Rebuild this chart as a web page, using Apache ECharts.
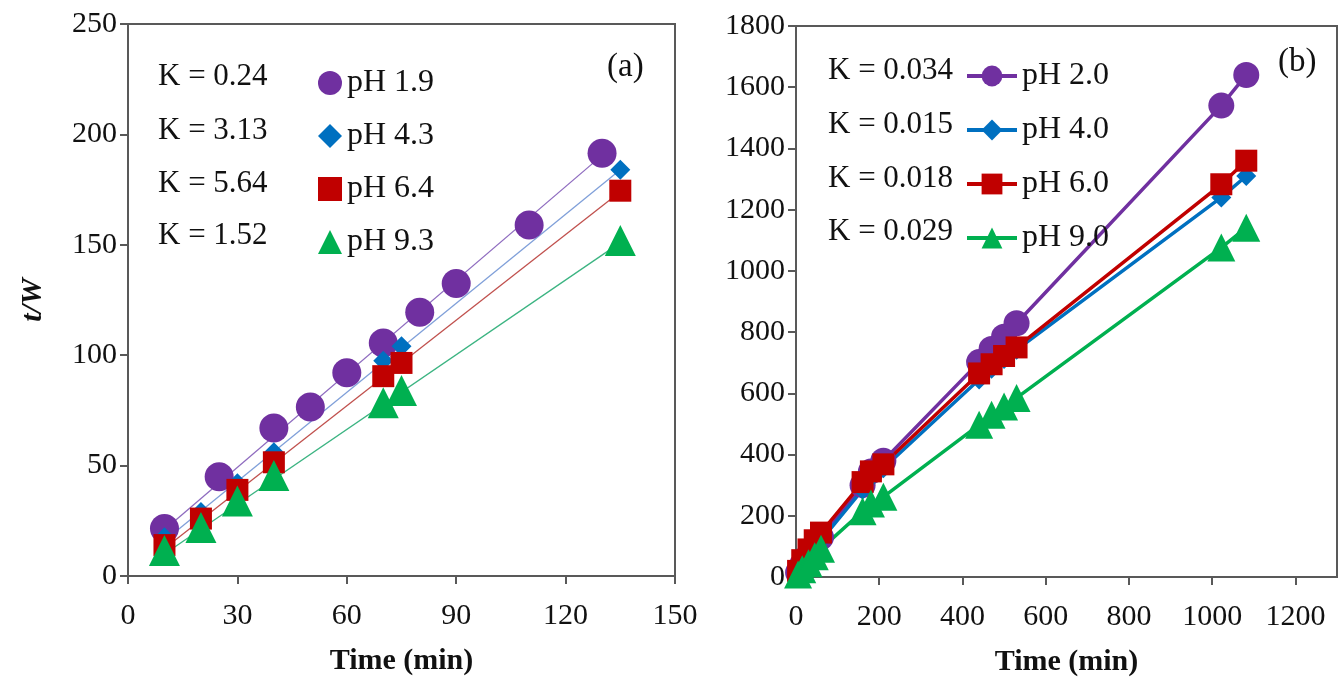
<!DOCTYPE html>
<html>
<head>
<meta charset="utf-8">
<script src="https://cdn.jsdelivr.net/npm/echarts@6/dist/echarts.min.js"></script>
<style>
  html, body { margin: 0; padding: 0; background: #fff; }
  #chart { width: 1342px; height: 683px; }
</style>
</head>
<body>
<div id="chart"></div>
<script>
// ---- Panel (a): t/W versus time, with linear fits ----
const timeA_19 = [10, 25, 40, 50, 60, 70, 80, 90, 110, 130];
const tw_19 = [21.5, 45, 67, 76.5, 92, 105.5, 119.5, 132.5, 159, 191.5];
const timeA = [10, 20, 30, 40, 70, 75, 135];
const tw_43 = [17.5, 29, 42, 56, 97.5, 104, 184];
const tw_64 = [14, 26, 39, 51.5, 90.5, 96.5, 174.5];
const tw_93 = [11.5, 22, 34, 45.5, 78.5, 84, 152];
// fitted line end points
const fit_19 = [[10, 21], [130, 190.5]];
const fit_43 = [[10, 16], [135, 184]];
const fit_64 = [[10, 12.5], [135, 174]];
const fit_93 = [[10, 10], [135, 151]];
const kA = ['K = 0.24', 'K = 3.13', 'K = 5.64', 'K = 1.52'];
const namesA = ['pH 1.9', 'pH 4.3', 'pH 6.4', 'pH 9.3'];

// ---- Panel (b) ----
const timeB = [5, 15, 30, 45, 60, 160, 180, 210, 440, 470, 500, 530, 1022, 1082];
const tw_20 = [15, 40, 70, 100, 130, 300, 345, 380, 702, 745, 785, 829, 1540, 1640];
const tw_40 = [10, 30, 60, 90, 120, 285, 325, 355, 645, 680, 712, 742, 1240, 1310];
const tw_60 = [20, 55, 90, 120, 145, 310, 345, 368, 665, 695, 722, 750, 1283, 1360];
const tw_90 = [8, 25, 45, 68, 92, 215, 240, 262, 497, 530, 557, 585, 1076, 1141];
const kB = ['K = 0.034', 'K = 0.015', 'K = 0.018', 'K = 0.029'];
const namesB = ['pH 2.0', 'pH 4.0', 'pH 6.0', 'pH 9.0'];

const PURPLE = '#7030A0', BLUE = '#0070C0', RED = '#C00000', GREEN = '#00B050';
const FONT = '"Liberation Serif", "Times New Roman", serif';
const AXIS = '#595959';

const pairs = (xs, ys) => xs.map((x, i) => [x, ys[i]]);
const plain = v => String(v);

function xAxisCfg(grid, max, interval) {
  return {
    type: 'value', gridIndex: grid, min: 0, max: max, interval: interval,
    name: 'Time (min)', nameLocation: 'middle', nameGap: 70,
    nameTextStyle: { fontFamily: FONT, fontSize: 30, fontWeight: 'bold', color: '#111' },
    axisLine: { show: true, lineStyle: { color: AXIS, width: 2 } },
    axisTick: { show: true, inside: false, length: 8, lineStyle: { color: AXIS, width: 2 } },
    axisLabel: { margin: 25, fontFamily: FONT, fontSize: 30, color: '#111', formatter: plain, showMaxLabel: grid === 0 },
    splitLine: { show: false }
  };
}
function yAxisCfg(grid, max, interval) {
  return {
    type: 'value', gridIndex: grid, min: 0, max: max, interval: interval,
    axisLine: { show: true, lineStyle: { color: AXIS, width: 2 } },
    axisTick: { show: true, inside: false, length: 8, lineStyle: { color: AXIS, width: 2 } },
    axisLabel: { margin: 11, fontFamily: FONT, fontSize: 30, color: '#111', formatter: plain },
    splitLine: { show: false }
  };
}

const scatterA = (name, sym, size, color, data) => ({
  name, type: 'scatter', xAxisIndex: 0, yAxisIndex: 0, symbol: sym, symbolSize: size,
  itemStyle: { color: color, opacity: 1 }, data, z: 3
});
const fitLine = (color, data) => ({
  type: 'line', xAxisIndex: 0, yAxisIndex: 0, data, symbol: 'none', silent: true,
  lineStyle: { color: color, width: 1.3 }, z: 2
});
const lineB = (name, sym, size, color, ys) => ({
  name, type: 'line', xAxisIndex: 1, yAxisIndex: 1, symbol: sym, symbolSize: size,
  data: pairs(timeB, ys), lineStyle: { color: color, width: 3.5 },
  itemStyle: { color: color }, z: 3
});

const graphics = [];
const rowA = [77, 131, 184, 236];
const rowB = [71, 125, 179, 232];
kA.forEach((t, i) => graphics.push({
  type: 'text', x: 158, y: rowA[i],
  style: { text: t, font: '31px ' + FONT, fill: '#111', verticalAlign: 'middle' }
}));
kB.forEach((t, i) => graphics.push({
  type: 'text', x: 828, y: rowB[i],
  style: { text: t, font: '31px ' + FONT, fill: '#111', verticalAlign: 'middle' }
}));
graphics.push({ type: 'text', x: 607, y: 67, style: { text: '(a)', font: '33px ' + FONT, fill: '#111', verticalAlign: 'middle' } });
graphics.push({ type: 'text', x: 1278, y: 62, style: { text: '(b)', font: '33px ' + FONT, fill: '#111', verticalAlign: 'middle' } });

const option = {
  backgroundColor: '#fff',
  animation: false,
  grid: [
    { left: 128, top: 24, width: 547, height: 552, outerBoundsMode: 'none', show: true, borderColor: AXIS, borderWidth: 2, backgroundColor: 'transparent' },
    { left: 796, top: 26, width: 541, height: 551, outerBoundsMode: 'none', show: true, borderColor: AXIS, borderWidth: 2, backgroundColor: 'transparent' }
  ],
  xAxis: [xAxisCfg(0, 150, 30), xAxisCfg(1, 1300, 200)],
  yAxis: [
    Object.assign(yAxisCfg(0, 250, 50), {
      name: 't/W', nameLocation: 'middle', nameGap: 80, nameRotate: 90,
      nameTextStyle: { fontFamily: FONT, fontSize: 30, fontWeight: 'bold', fontStyle: 'italic', color: '#111' }
    }),
    yAxisCfg(1, 1800, 200)
  ],
  legend: [
    {
      data: namesA, orient: 'vertical', left: 313, top: 62, itemGap: 21,
      itemWidth: 24, itemHeight: 24, itemTextGap: 6, selectedMode: false,
      textStyle: { fontFamily: FONT, fontSize: 32, color: '#111', lineHeight: 32 }
    },
    {
      data: namesB, orient: 'vertical', left: 960, top: 55, itemGap: 22,
      itemWidth: 50, itemHeight: 26, itemTextGap: 5, selectedMode: false,
      lineStyle: { width: 4 },
      textStyle: { fontFamily: FONT, fontSize: 32, color: '#111', lineHeight: 32 }
    }
  ],
  graphic: graphics,
  series: [
    fitLine('#8e6bbf', fit_19),
    fitLine('#7f9fd9', fit_43),
    fitLine('#c0504d', fit_64),
    fitLine('#3cb482', fit_93),
    scatterA(namesA[0], 'circle', 29, PURPLE, pairs(timeA_19, tw_19)),
    scatterA(namesA[1], 'diamond', 20, BLUE, pairs(timeA, tw_43)),
    scatterA(namesA[2], 'rect', 22, RED, pairs(timeA, tw_64)),
    scatterA(namesA[3], 'triangle', 31, GREEN, pairs(timeA, tw_93)),
    lineB(namesB[0], 'circle', 26, PURPLE, tw_20),
    lineB(namesB[1], 'diamond', 20, BLUE, tw_40),
    lineB(namesB[2], 'rect', 22, RED, tw_60),
    lineB(namesB[3], 'triangle', 28, GREEN, tw_90)
  ]
};

const chart = echarts.init(document.getElementById('chart'), null, { renderer: 'canvas' });
chart.setOption(option);
</script>
</body>
</html>
